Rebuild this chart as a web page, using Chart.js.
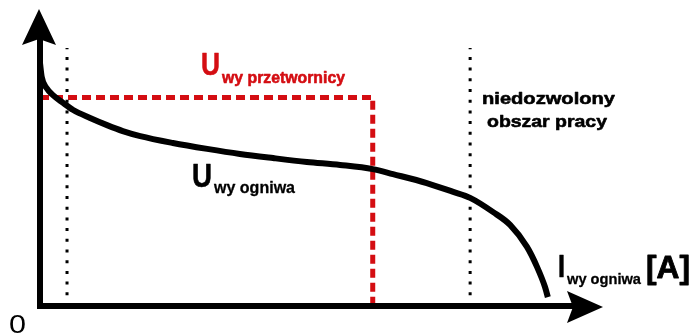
<!DOCTYPE html>
<html>
<head>
<meta charset="utf-8">
<script src="https://cdn.jsdelivr.net/npm/chart.js@4/dist/chart.umd.min.js"></script>
<style>
  body { margin: 0; background: #fff; }
  #wrap { width: 693px; height: 334px; }
</style>
</head>
<body>
<div id="wrap"><canvas id="charakterystyka" width="693" height="334"></canvas></div>
<script>
// charakterystyka ogniwa: prad (x) i napiecie (y), jednostki umowne 0..100
const pradOgniwa = [0, 0.3, 1.2, 2.3, 4.1, 5.9, 8.9, 11.9, 14.7, 17.8, 23.6, 29.7, 35.5, 41.4, 47.4, 53.3, 59.1,
  62.7, 68.7, 73.4, 76.4, 80.5, 83.5, 86.5, 88.3, 89.7, 90.2];
const napiecieOgniwa = [81.8, 77.2, 73.3, 71.0, 68.4, 66.0, 63.3, 60.9, 58.9, 57.2, 54.9, 52.9, 51.2, 49.8, 48.5, 47.5, 46.1,
  44.4, 41.4, 38.4, 36.4, 31.6, 27.3, 19.9, 13.1, 6.4, 3.0];

// napiecie wyjsciowe przetwornicy (linia przerywana)
const pradPrzetwornicy = [0, 59.1, 59.1];
const napieciePrzetwornicy = [70.2, 70.2, 0];

// granice obszaru pracy (kropkowane)
const granicaLewa = 4.8;
const granicaPrawa = 76.4;
const granicaGora = 86.9;

const pts = (xs, ys) => xs.map((x, i) => ({ x, y: ys[i] }));

const czerwony = '#d40d12';

function fitText(ctx, text, x, y, font, width, color, gruby) {
  ctx.save();
  ctx.font = font;
  ctx.fillStyle = color;
  ctx.strokeStyle = color;
  ctx.textBaseline = 'alphabetic';
  const w = ctx.measureText(text).width;
  ctx.translate(x, y);
  ctx.scale(width / w, 1);
  ctx.fillText(text, 0, 0);
  if (gruby) {
    ctx.lineWidth = gruby;
    ctx.lineJoin = 'round';
    ctx.strokeText(text, 0, 0);
  }
  ctx.restore();
}

const osie = {
  id: 'osie',
  afterDatasetsDraw(chart) {
    const ctx = chart.ctx;
    const a = chart.chartArea;
    const x0 = a.left, y0 = a.bottom;
    ctx.save();
    ctx.strokeStyle = '#000';
    ctx.fillStyle = '#000';
    ctx.lineWidth = 6;
    ctx.lineCap = 'butt';
    ctx.beginPath();
    ctx.moveTo(x0, y0 + 3);
    ctx.lineTo(x0, a.top + 30);
    ctx.moveTo(x0 - 3, y0);
    ctx.lineTo(a.right - 30, y0);
    ctx.stroke();
    // grot osi Y
    ctx.beginPath();
    ctx.moveTo(x0 - 1, a.top);
    ctx.lineTo(x0 + 16, a.top + 36);
    ctx.lineTo(x0 - 1, a.top + 30);
    ctx.lineTo(x0 - 18, a.top + 36);
    ctx.closePath();
    ctx.fill();
    // grot osi X
    ctx.beginPath();
    ctx.moveTo(a.right, y0 + 1);
    ctx.lineTo(a.right - 36, y0 + 17);
    ctx.lineTo(a.right - 30, y0 + 1);
    ctx.lineTo(a.right - 36, y0 - 15);
    ctx.closePath();
    ctx.fill();
    ctx.restore();

    const B = 'Liberation Sans, Arial, sans-serif';
    // U wy przetwornicy
    fitText(ctx, 'U', 201, 75, 'bold 31px ' + B, 19, czerwony, 0.6);
    fitText(ctx, 'wy przetwornicy', 222, 83, 'bold 17px ' + B, 123, czerwony, 0.6);
    // U wy ogniwa
    fitText(ctx, 'U', 192, 187, 'bold 33px ' + B, 20, '#000', 0.6);
    fitText(ctx, 'wy ogniwa', 214, 193, 'bold 16px ' + B, 81, '#000', 0.3);
    // I wy ogniwa [A]
    fitText(ctx, 'I', 558, 277, 'bold 31px ' + B, 7, '#000', 0.6);
    fitText(ctx, 'wy ogniwa', 567, 284, 'bold 15px ' + B, 74, '#000', 0.3);
    fitText(ctx, '[A]', 646, 278, 'bold 31px ' + B, 44, '#000', 0.8);
    // niedozwolony obszar pracy
    fitText(ctx, 'niedozwolony', 482, 104, 'bold 17px ' + B, 133, '#000', 0.6);
    fitText(ctx, 'obszar pracy', 487, 127, 'bold 17px ' + B, 120, '#000', 0.6);
    // 0
    fitText(ctx, '0', 9, 333, '26px ' + B, 17, '#000');
  }
};

new Chart(document.getElementById('charakterystyka'), {
  type: 'scatter',
  data: {
    datasets: [
      {
        data: pts([granicaLewa, granicaLewa], [0, granicaGora]),
        showLine: true, borderColor: '#000', borderWidth: 3,
        borderDash: [3, 7.7], pointRadius: 0, clip: false
      },
      {
        data: pts([granicaPrawa, granicaPrawa], [0, granicaGora]),
        showLine: true, borderColor: '#000', borderWidth: 3,
        borderDash: [3, 7.7], pointRadius: 0, clip: false
      },
      {
        data: pts(pradOgniwa, napiecieOgniwa),
        showLine: true, borderColor: '#000', borderWidth: 6,
        cubicInterpolationMode: 'monotone', pointRadius: 0, clip: false
      },
      {
        data: pts(pradPrzetwornicy, napieciePrzetwornicy),
        showLine: true, borderColor: czerwony, borderWidth: 5,
        borderDash: [9, 5], pointRadius: 0, clip: false
      }
    ]
  },
  options: {
    responsive: false,
    animation: false,
    layout: { padding: { left: 40, top: 9, right: 90, bottom: 28 } },
    plugins: { legend: { display: false }, tooltip: { enabled: false } },
    scales: {
      x: { type: 'linear', min: 0, max: 100, display: false },
      y: { min: 0, max: 100, display: false }
    }
  },
  plugins: [osie]
});
</script>
</body>
</html>
